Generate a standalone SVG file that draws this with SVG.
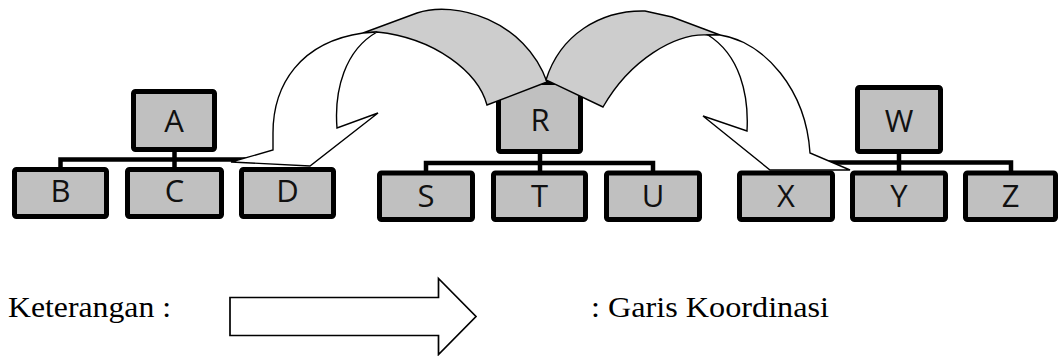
<svg xmlns="http://www.w3.org/2000/svg" width="1059" height="356" viewBox="0 0 1059 356">
  <style>
    .box { fill: #c0c0c0; stroke: #000; stroke-width: 5; }
    .lbl { font-family: "Open Sans", "Noto Sans", sans-serif; font-size: 31px; fill: #111; text-anchor: middle; }
    .org { fill: none; stroke: #000; stroke-width: 4.5; stroke-linejoin: miter; stroke-linecap: butt; }
    .ribbon-back { fill: #cdcdcd; stroke: #000; stroke-width: 1.4; stroke-linejoin: miter; }
    .ribbon-front { fill: #fff; stroke: #000; stroke-width: 1.4; stroke-linejoin: miter; }
    .legend { font-family: "Liberation Serif", "Times New Roman", serif; font-size: 30px; fill: #000; }
  </style>

  <rect width="1059" height="356" fill="#fff"/>

  <!-- org-chart links -->
  <g id="connectors">
    <path class="org" d="M60.5,167 V159.5 H250 M174.5,152 V167"/>
    <path class="org" d="M426,171 V163 H653 V171 M540,154 V171"/>
    <path class="org" d="M800,162.5 H1011 V171 M899,154 V171"/>
  </g>

  <!-- heads of the three units -->
  <g id="node-A"><rect class="box" x="133.5" y="91.5" width="81" height="58" rx="2"/><text class="lbl" x="174" y="131.5">A</text></g>
  <g id="node-R"><rect class="box" x="498.5" y="82.5" width="82" height="69" rx="2"/><text class="lbl" x="540" y="130.5">R</text></g>
  <g id="node-W"><rect class="box" x="857.5" y="87.5" width="83" height="64" rx="2"/><text class="lbl" x="899" y="131.5">W</text></g>

  <!-- curved coordination arrows from R to D and to X -->
  <g id="coordination">
    <g id="arrow-R-D">
      <path class="ribbon-back" d="M363,33 L417,13 C455,0 525,20 547,82 L487,105 C478,72 435,38 377,32 Z"/>
      <path class="ribbon-front" d="M363,33 C300,42 273,85 273,133 L273,150 L231,162 L310,166 L378,113 L337,128 C334,90 345,50 377,32 Z"/>
    </g>
    <g id="arrow-R-X">
      <path class="ribbon-back" d="M546,80 C560,35 600,10 645,11 L672,17 L720,35 L708,35 C675,33 630,60 603,107 Z"/>
      <path class="ribbon-front" d="M720,35 C765,42 806,90 810,153 L850,170 L770,170 L703,116 L747,131 C749,95 740,55 708,35 Z"/>
    </g>
  </g>

  <!-- subordinate units -->
  <g id="node-B"><rect class="box" x="14.5" y="169.5" width="92" height="47" rx="2"/><text class="lbl" x="60.5" y="202">B</text></g>
  <g id="node-C"><rect class="box" x="127.5" y="169.5" width="94" height="47" rx="2"/><text class="lbl" x="174.5" y="202">C</text></g>
  <g id="node-D"><rect class="box" x="241.5" y="169.5" width="92" height="47" rx="2"/><text class="lbl" x="287.5" y="202">D</text></g>

  <g id="node-S"><rect class="box" x="379.5" y="173" width="93" height="46.5" rx="2"/><text class="lbl" x="426" y="206.5">S</text></g>
  <g id="node-T"><rect class="box" x="493.5" y="173" width="92" height="46.5" rx="2"/><text class="lbl" x="539.5" y="206.5">T</text></g>
  <g id="node-U"><rect class="box" x="606.5" y="173" width="93" height="46.5" rx="2"/><text class="lbl" x="653" y="206.5">U</text></g>

  <g id="node-X"><rect class="box" x="739.5" y="173" width="93" height="46.5" rx="2"/><text class="lbl" x="786" y="206.5">X</text></g>
  <g id="node-Y"><rect class="box" x="852.5" y="173" width="93" height="46.5" rx="2"/><text class="lbl" x="899" y="206.5">Y</text></g>
  <g id="node-Z"><rect class="box" x="965.5" y="173" width="90" height="46.5" rx="2"/><text class="lbl" x="1010.5" y="206.5">Z</text></g>

  <!-- legend -->
  <g id="legend">
    <text class="legend" x="8" y="317" textLength="163" lengthAdjust="spacingAndGlyphs">Keterangan :</text>
    <path d="M230,297.5 H438.5 V278.5 L476,316.5 L438.5,354.5 V335.5 H230 Z" fill="#fff" stroke="#000" stroke-width="1.7"/>
    <text class="legend" x="591" y="317" textLength="238" lengthAdjust="spacingAndGlyphs">: Garis Koordinasi</text>
  </g>
</svg>
